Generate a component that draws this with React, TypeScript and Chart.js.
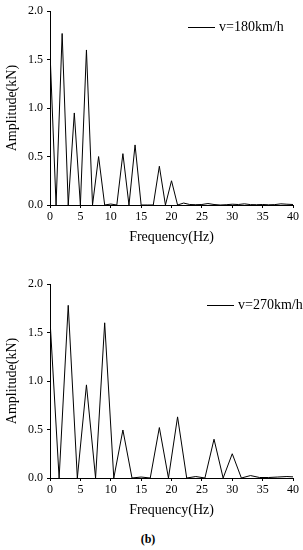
import React, { useEffect, useRef } from "react";
import { Chart, registerables } from "chart.js";

Chart.register(...registerables);

// v = 180 km/h spectrum
const freq180 = [0, 1, 2, 3, 4, 5, 6, 7, 8, 9, 10, 11, 12, 13, 14, 15, 16, 17, 18, 19, 20, 21, 22, 23, 24, 25, 26, 27, 28, 29, 30, 31, 32, 33, 34, 35, 36, 37, 38, 39, 40];
const amp180 = [1.58, 0, 1.77, 0, 0.95, 0, 1.6, 0, 0.5, 0, 0.01, 0, 0.53, 0, 0.62, 0, 0, 0, 0.4, 0, 0.25, 0, 0.02, 0.005, 0.003, 0.005, 0.015, 0.005, 0, 0.003, 0.008, 0.005, 0.012, 0.004, 0.003, 0.005, 0.002, 0.004, 0.012, 0.008, 0.005];

// v = 270 km/h spectrum
const freq270 = [0, 1.5, 3, 4.5, 6, 7.5, 9, 10.5, 12, 13.5, 15, 16.5, 18, 19.5, 21, 22.5, 24, 25.5, 27, 28.5, 30, 31.5, 33, 34.5, 36, 37.5, 39, 40.5];
const amp270 = [1.63, 0, 1.78, 0, 0.96, 0, 1.6, 0, 0.495, 0, 0.01, 0, 0.52, 0, 0.63, 0, 0.015, 0, 0.4, 0, 0.25, 0, 0.025, 0.005, 0.005, 0.01, 0.015, 0.01];

const label180 = "v=180km/h";
const label270 = "v=270km/h";

const xTitle = "Frequency(Hz)";
const yTitle = "Amplitude(kN)";
const caption = "(b)";

const FONT = "'Liberation Serif', 'Times New Roman', serif";

const legendPlugin = {
  id: "customLegend",
  afterDraw(chart: any, _args: any, opts: any) {
    const { ctx } = chart;
    const ds = chart.data.datasets[0];
    ctx.save();
    ctx.strokeStyle = "#000";
    ctx.lineWidth = 1;
    ctx.beginPath();
    ctx.moveTo(opts.x, opts.y + 0.5);
    ctx.lineTo(opts.x + opts.len, opts.y + 0.5);
    ctx.stroke();
    ctx.font = `14px ${FONT}`;
    ctx.fillStyle = "#000";
    ctx.textBaseline = "middle";
    ctx.textAlign = "left";
    ctx.fillText(ds.label, opts.x + opts.len + 4, opts.y);
    ctx.restore();
  },
};

function makeConfig(xs: number[], ys: number[], label: string, padTop: number, legend: any) {
  return {
    type: "line" as const,
    data: {
      datasets: [
        {
          label,
          data: xs.map((x, i) => ({ x, y: ys[i] })),
          borderColor: "#000",
          borderWidth: 1,
          pointRadius: 0,
          tension: 0,
          fill: false,
        },
      ],
    },
    options: {
      animation: false,
      responsive: false,
      maintainAspectRatio: false,
      layout: { padding: { top: padTop, right: 10, left: 0, bottom: 0 } },
      plugins: {
        legend: { display: false },
        tooltip: { enabled: false },
        customLegend: legend,
      },
      scales: {
        x: {
          type: "linear",
          min: 0,
          max: 40,
          afterFit: (s: any) => {
            s.height = 45;
          },
          grid: { drawOnChartArea: false, drawTicks: true, tickLength: 3, color: "#000" },
          border: { display: true, color: "#000", width: 1 },
          ticks: {
            stepSize: 5,
            padding: 2,
            color: "#000",
            font: { family: FONT, size: 12 },
            maxRotation: 0,
          },
          title: {
            display: true,
            text: xTitle,
            color: "#000",
            font: { family: FONT, size: 14 },
            padding: { top: 0, bottom: 4 },
          },
        },
        y: {
          type: "linear",
          min: 0,
          max: 2,
          afterFit: (s: any) => {
            s.width = 50;
          },
          grid: { drawOnChartArea: false, drawTicks: true, tickLength: 3, color: "#000" },
          border: { display: true, color: "#000", width: 1 },
          ticks: {
            stepSize: 0.5,
            padding: 4,
            color: "#000",
            font: { family: FONT, size: 12 },
            callback: (v: any) => Number(v).toFixed(1),
          },
          title: {
            display: true,
            text: yTitle,
            color: "#000",
            font: { family: FONT, size: 14 },
            padding: { top: 4, bottom: 0 },
          },
        },
      },
    },
    plugins: [legendPlugin],
  };
}

function ChartCanvas({ config, width, height, top }: any) {
  const ref = useRef<HTMLCanvasElement | null>(null);
  useEffect(() => {
    if (!ref.current) return;
    const chart = new Chart(ref.current, config as any);
    return () => chart.destroy();
  }, []);
  return (
    <canvas
      ref={ref}
      width={width}
      height={height}
      style={{ position: "absolute", left: 0, top, width, height }}
    />
  );
}

export default function App() {
  const cfgTop = makeConfig(freq180, amp180, label180, 11, { x: 188, y: 27, len: 27 });
  const cfgBottom = makeConfig(freq270, amp270, label270, 24, { x: 207, y: 45, len: 27 });
  return (
    <div style={{ position: "absolute", left: 0, top: 0, width: 303, height: 550, background: "#fff" }}>
      <ChartCanvas config={cfgTop} width={303} height={250} top={0} />
      <ChartCanvas config={cfgBottom} width={303} height={263} top={260} />
      <div
        style={{
          position: "absolute",
          left: 0,
          width: 296,
          top: 531,
          textAlign: "center",
          fontFamily: FONT,
          fontWeight: "bold",
          fontSize: 12,
          lineHeight: "16px",
          color: "#000",
        }}
      >
        {caption}
      </div>
    </div>
  );
}
